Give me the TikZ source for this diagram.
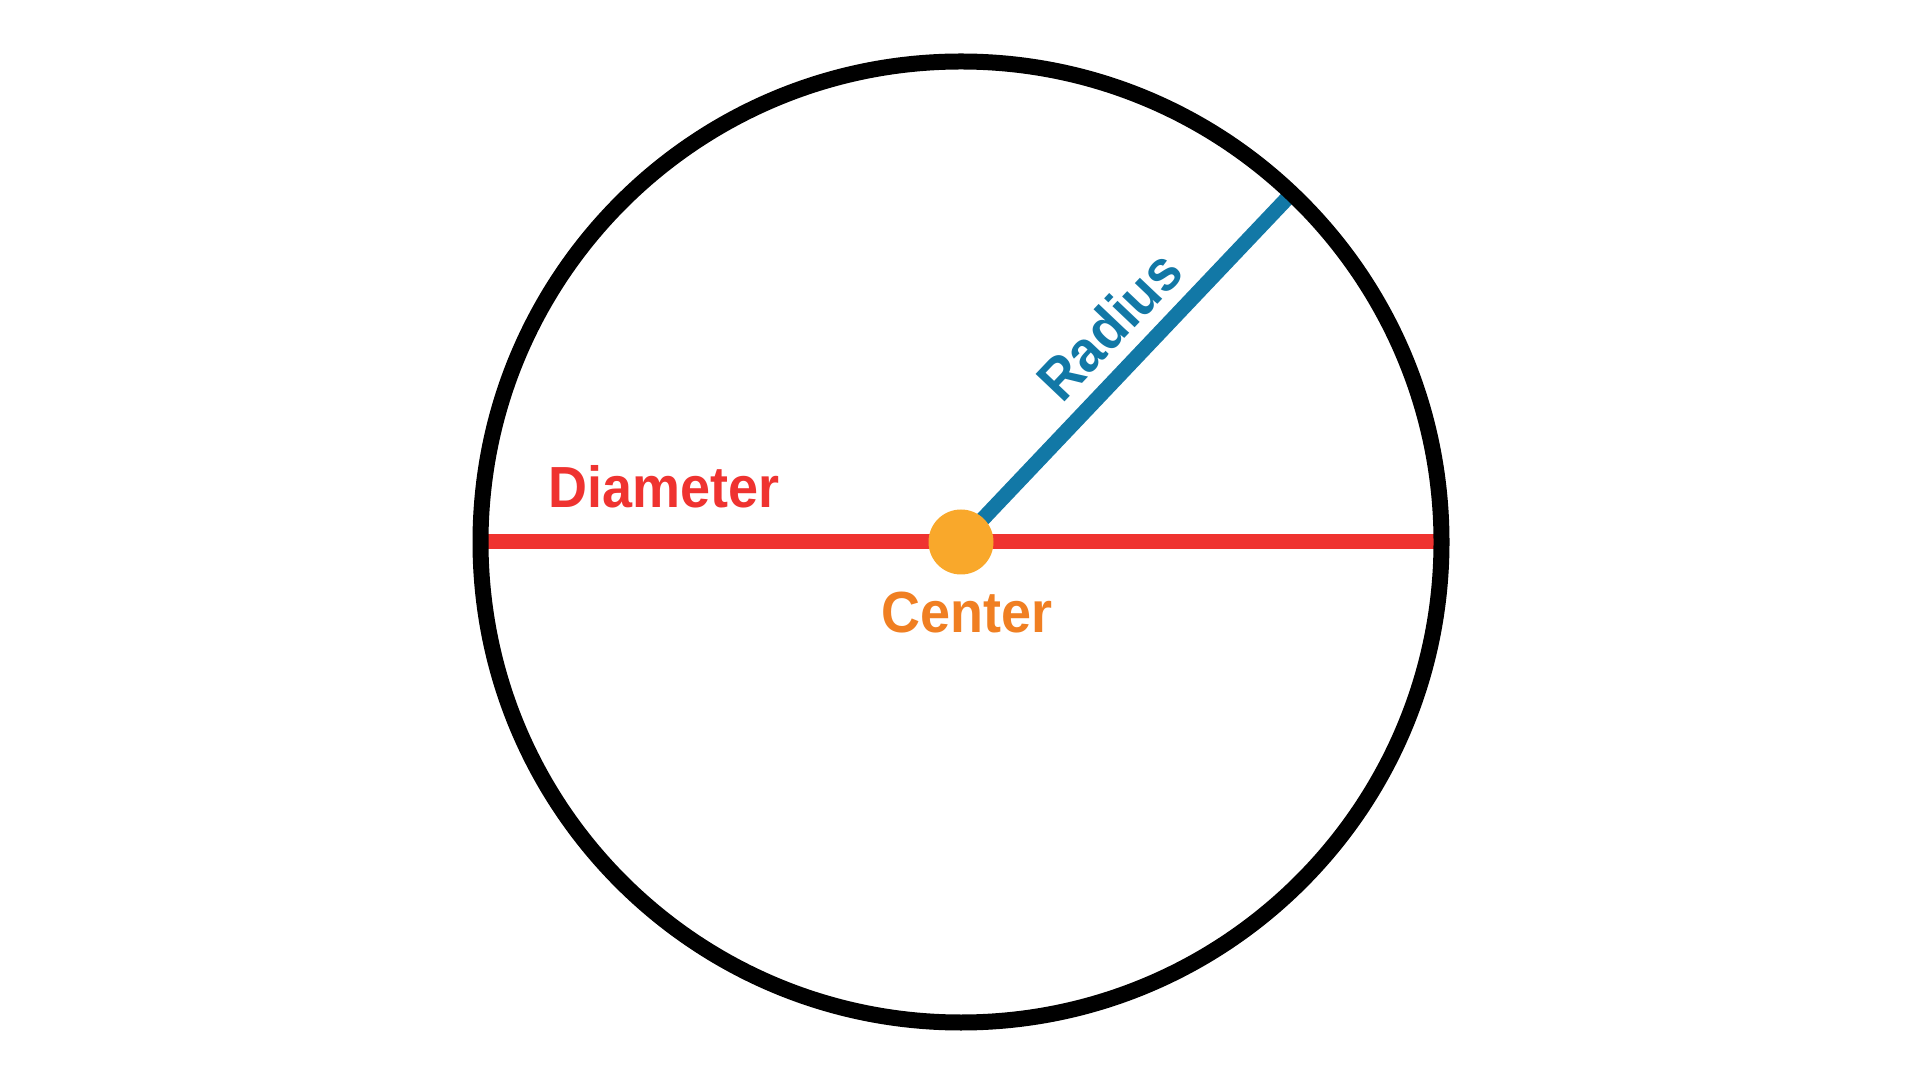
\documentclass[tikz,border=0pt]{standalone}
\usepackage{fontspec}
\newfontfamily\lblfont{Liberation Sans}[FakeStretch=0.93]
\usetikzlibrary{calc}
\definecolor{diamred}{HTML}{EF3330}
\definecolor{radblue}{HTML}{1278A6}
\definecolor{dotorange}{HTML}{F9A82B}
\definecolor{centerorange}{HTML}{F07F22}
\tikzset{
  lbl/.style={inner sep=0pt, font=\lblfont\bfseries\fontsize{58}{60}\selectfont},
}
\begin{document}
\begin{tikzpicture}[x=1pt,y=1pt]
\useasboundingbox[fill=white] (0,0) rectangle (1920,1080);
\coordinate (c) at (961,538);
\coordinate (dL) at ($(c)+(-480,0)$);
\coordinate (dR) at ($(c)+(480,0)$);
\coordinate (rEnd) at ($(c)+(46.5:480)$);
% diameter
\draw[diamred, line width=15pt] (dL) -- (dR);
% radius
\draw[radblue, line width=15pt] (c) -- (rEnd);
% circle
\draw[black, line width=16pt] (c) circle[radius=480.5];
% center dot
\node[circle, fill=dotorange, minimum size=65pt, inner sep=0pt] (dot) at (c) {};
% labels
\node[lbl, text=diamred, anchor=base] (diam) at (664,572) {Diameter};
\node[lbl, text=centerorange, anchor=base] (cent) at (967,447) {Center};
\node[lbl, text=radblue, anchor=base, rotate=46.5] (rad) at ($(c)+(46.5:259)+(136.5:21)$) {Radius};
\end{tikzpicture}
\end{document}
